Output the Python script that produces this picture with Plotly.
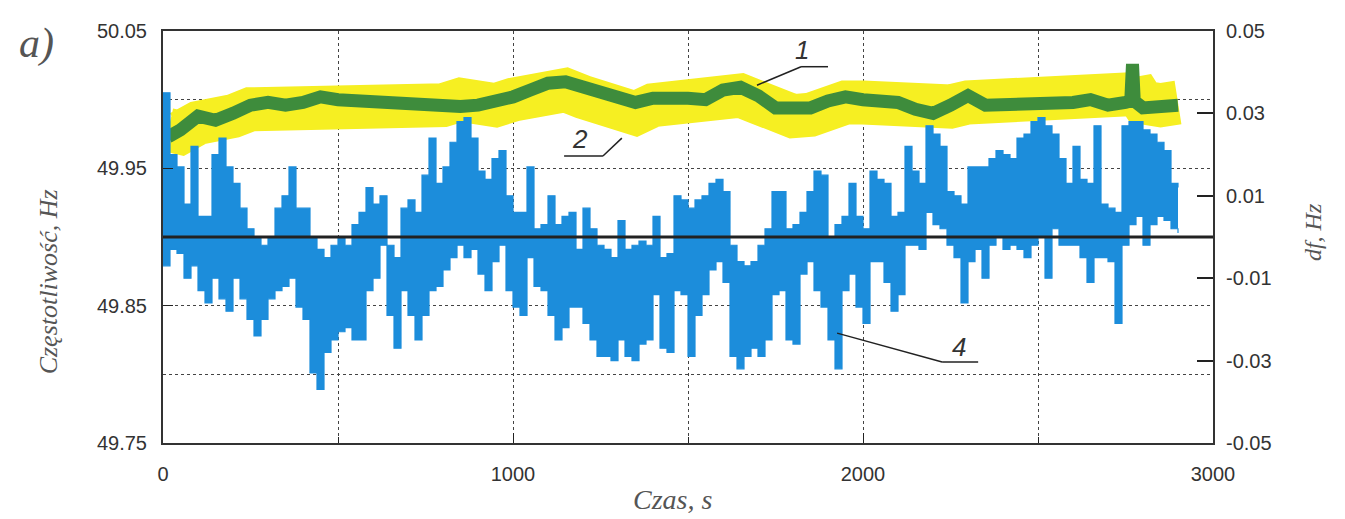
import plotly.graph_objects as go

# ---------------- data ----------------
# series 4: frequency deviation df (right axis), envelope per 20 s bin
blue_t = list(range(0, 2901, 20))
blue_hi = [0.035, 0.020, 0.017, 0.008, 0.022, 0.005, 0.005, 0.020, 0.024, 0.017,
           0.013, 0.007, 0.002, 0.000, -0.002, 0.000, 0.007, 0.010, 0.017, 0.007,
           0.007, 0.000, -0.003, -0.005, -0.002, 0.000, -0.002, 0.003, 0.006, 0.012,
           0.008, 0.010, -0.002, -0.005, 0.007, 0.009, 0.006, 0.015, 0.024, 0.013,
           0.017, 0.023, 0.028, 0.029, 0.024, 0.016, 0.014, 0.019, 0.021, 0.010,
           0.006, 0.006, 0.017, 0.002, 0.003, 0.010, 0.003, 0.005, 0.006, -0.003,
           0.007, 0.002, -0.002, -0.003, -0.005, 0.004, -0.003, -0.002, -0.001, -0.002,
           0.005, -0.005, -0.004, 0.010, 0.009, 0.007, 0.009, 0.010, 0.013, 0.014,
           0.011, -0.002, -0.006, -0.007, -0.006, -0.002, 0.002, 0.011, 0.011, 0.002,
           0.003, 0.006, 0.011, 0.016, 0.015, 0.000, 0.003, 0.005, 0.013, 0.005,
           0.002, 0.016, 0.014, 0.013, 0.005, 0.006, 0.022, 0.016, 0.013, 0.027,
           0.025, 0.022, 0.011, 0.010, 0.008, 0.017, 0.017, 0.017, 0.019, 0.021,
           0.020, 0.019, 0.024, 0.025, 0.028, 0.029, 0.027, 0.025, 0.019, 0.013,
           0.022, 0.014, 0.013, 0.027, 0.008, 0.007, 0.006, 0.027, 0.028, 0.028,
           0.026, 0.025, 0.023, 0.021, 0.013, 0.012]
blue_lo = [-0.007, -0.003, -0.004, -0.010, -0.007, -0.013, -0.016, -0.010, -0.015, -0.018,
           -0.010, -0.015, -0.020, -0.024, -0.020, -0.015, -0.013, -0.012, -0.010, -0.017,
           -0.020, -0.033, -0.037, -0.028, -0.025, -0.023, -0.022, -0.025, -0.025, -0.013,
           -0.010, -0.002, -0.019, -0.027, -0.013, -0.019, -0.025, -0.019, -0.013, -0.012,
           -0.008, -0.005, -0.002, -0.005, -0.003, -0.009, -0.013, -0.006, -0.002, -0.013,
           -0.017, -0.019, -0.005, -0.012, -0.013, -0.019, -0.025, -0.022, -0.017, -0.017,
           -0.021, -0.025, -0.029, -0.029, -0.030, -0.025, -0.029, -0.030, -0.026, -0.025,
           -0.014, -0.027, -0.028, -0.013, -0.014, -0.029, -0.019, -0.014, -0.008, -0.006,
           -0.011, -0.029, -0.032, -0.029, -0.027, -0.029, -0.025, -0.014, -0.013, -0.025,
           -0.026, -0.009, -0.006, -0.013, -0.017, -0.025, -0.032, -0.013, -0.009, -0.017,
           -0.021, -0.006, -0.006, -0.011, -0.018, -0.014, -0.002, -0.002, -0.003, 0.006,
           0.003, 0.002, -0.002, -0.005, -0.016, -0.006, -0.003, -0.010, -0.002, 0.000,
           -0.003, -0.002, -0.003, -0.005, -0.002, 0.000, -0.010, 0.002, -0.002, -0.002,
           -0.002, -0.005, -0.011, -0.005, -0.005, -0.006, -0.021, -0.002, 0.003, 0.005,
           -0.002, 0.003, 0.005, 0.004, 0.002, 0.001]

# series 1 (green) and 2 (yellow): frequency, Hz (left axis)
fy_t = [15, 50, 100, 150, 200, 250, 300, 350, 400, 450, 500, 550, 600, 650, 700,
        750, 800, 850, 900, 950, 1000, 1050, 1100, 1150, 1200, 1250, 1300, 1350,
        1400, 1450, 1500, 1550, 1600, 1650, 1700, 1750, 1800, 1850, 1900, 1950,
        2000, 2050, 2100, 2150, 2200, 2250, 2300, 2350, 2400, 2450, 2500, 2550,
        2600, 2650, 2700, 2750, 2765, 2770, 2775, 2800, 2850, 2900]
green_f = [49.973, 49.978, 49.988, 49.985, 49.990, 49.996, 49.998, 49.996, 49.998, 50.002,
           50.000, 49.999, 49.998, 49.998, 49.997, 49.996, 49.996, 49.995, 49.996, 49.998,
           50.002, 50.007, 50.012, 50.013, 50.009, 50.005, 50.000, 49.998, 50.001, 50.002,
           50.001, 50.000, 50.007, 50.009, 50.003, 49.994, 49.993, 49.994, 49.999, 50.002,
           50.000, 49.998, 49.998, 49.993, 49.990, 49.996, 50.003, 49.996, 49.996, 49.996,
           49.998, 49.998, 49.998, 50.000, 49.996, 49.998, 49.999, 50.026, 49.999, 49.994,
           49.994, 49.996]
yellow_f = [49.978, 49.976, 49.983, 49.983, 49.988, 49.993, 49.993, 49.990, 49.990, 49.993,
            49.993, 49.993, 49.993, 49.990, 49.990, 49.993, 49.996, 50.000, 49.996, 49.996,
            50.000, 50.005, 50.007, 50.007, 50.002, 49.998, 49.990, 49.990, 49.996, 49.998,
            49.996, 49.996, 50.001, 50.003, 49.998, 49.990, 49.988, 49.989, 49.996, 49.998,
            49.998, 49.996, 49.996, 49.993, 49.993, 49.995, 49.998, 49.998, 49.996, 49.996,
            49.998, 49.998, 49.998, 50.000, 49.998, 50.000, 50.004, 50.010, 50.004, 49.998,
            49.996, 49.998]

x_ticks = [0, 1000, 2000, 3000]
f_ticks = [49.75, 49.85, 49.95, 50.05]
df_ticks = [-0.05, -0.03, -0.01, 0.01, 0.03, 0.05]
df_tick_text = ["-0.05", "-0.03", "-0.01", "0.01", "0.03", "0.05"]

# ---------------- figure ----------------
BLUE = "#1c8ddb"
fig = go.Figure()

fig.add_trace(go.Scatter(x=blue_t, y=blue_lo, yaxis="y2", mode="lines",
                         line=dict(color=BLUE, width=1.2, shape="hv"),
                         showlegend=False, hoverinfo="skip"))
fig.add_trace(go.Scatter(x=blue_t, y=blue_hi, yaxis="y2", mode="lines",
                         line=dict(color=BLUE, width=1.2, shape="hv"),
                         fill="tonexty", fillcolor=BLUE,
                         showlegend=False, hoverinfo="skip"))
fig.add_trace(go.Scatter(x=fy_t, y=yellow_f, mode="lines",
                         line=dict(color="#f6ef22", width=44),
                         showlegend=False, hoverinfo="skip"))
fig.add_trace(go.Scatter(x=fy_t, y=green_f, mode="lines",
                         line=dict(color="#3e8c3c", width=13),
                         showlegend=False, hoverinfo="skip"))

tick_font = dict(family="Liberation Sans, Arial, sans-serif", size=20, color="#333")
grid_style = dict(gridcolor="#444", gridwidth=1, griddash="dot")

# page has an 8 px body margin; figure sized so the plot area lands where it should
W, H = 1337, 511
L, R, T, B = 155, 132, 17, 76

fig.update_layout(
    width=W, height=H,
    margin=dict(l=L, r=R, t=T, b=B),
    paper_bgcolor="white", plot_bgcolor="white",
    xaxis=dict(range=[0, 3000], tickvals=x_ticks, ticks="inside", ticklen=10,
               tickcolor="#222", showgrid=True, **grid_style,
               minor=dict(dtick=500, tick0=0, showgrid=True, gridcolor="#444",
                          griddash="dot", ticks="inside", ticklen=6),
               showline=True, mirror=True, linecolor="#333", linewidth=2,
               zeroline=False, tickfont=tick_font, ticklabelstandoff=12),
    yaxis=dict(range=[49.75, 50.05], tickvals=f_ticks, tickformat=".2f",
               ticks="inside", ticklen=10, tickcolor="#222",
               showgrid=True, **grid_style,
               minor=dict(dtick=0.05, tick0=49.75, showgrid=True, gridcolor="#444",
                          griddash="dot"),
               showline=True, mirror=True, linecolor="#333", linewidth=2,
               zeroline=False, tickfont=tick_font, ticklabelstandoff=10),
    yaxis2=dict(range=[-0.05, 0.05], overlaying="y", side="right",
                tickvals=df_ticks, ticktext=df_tick_text,
                ticks="inside", ticklen=16, tickcolor="#222", tickwidth=1.5,
                showgrid=False, zeroline=False, showline=False,
                tickfont=tick_font, ticklabelstandoff=12),
)

# df = 0 reference line
fig.add_shape(type="line", xref="x", yref="y2", x0=0, x1=3000, y0=0, y1=0,
              line=dict(color="#222", width=3), layer="above")

# labels 1, 2, 4 with leader lines
lab_font = dict(family="Liberation Sans, Arial, sans-serif", size=26, color="#333")
callouts = [
    ("1", (1826, 50.036), [(1900, 50.024), (1823, 50.024), (1697, 50.0105)]),
    ("2", (1190, 49.971), [(1146, 49.959), (1257, 49.959), (1311, 49.972)]),
    ("4", (2274, 49.820), [(2329, 49.809), (2226, 49.809), (1926, 49.830)]),
]
for txt, (tx, ty), pts in callouts:
    fig.add_annotation(x=tx, y=ty, xref="x", yref="y", text="<i>%s</i>" % txt,
                       showarrow=False, font=lab_font)
    for (xa, ya), (xb, yb) in zip(pts[:-1], pts[1:]):
        fig.add_shape(type="line", xref="x", yref="y", x0=xa, y0=ya, x1=xb, y1=yb,
                      line=dict(color="#222", width=1.5), layer="above")

# outer texts, positioned in window pixels (converted to paper coords below)
serif = "Liberation Serif, Times New Roman, serif"
outer = [
    ("<i>a)</i>", 36, 38, 0, 42),
    ("<i>Częstotliwość, Hz</i>", 48, 280, -90, 26),
    ("<i>df, Hz</i>", 1313, 229, -90, 24),
    ("<i>Czas, s</i>", 672, 500, 0, 28),
]
OFF = 8
for text, px, py, ang, size in outer:
    fig.add_annotation(text=text, xref="paper", yref="paper",
                       x=(px - OFF - L) / (W - L - R),
                       y=1 - (py - OFF - T) / (H - T - B),
                       xanchor="center", yanchor="middle", textangle=ang,
                       showarrow=False, font=dict(family=serif, size=size, color="#555"))

fig.write_html("out.html")
